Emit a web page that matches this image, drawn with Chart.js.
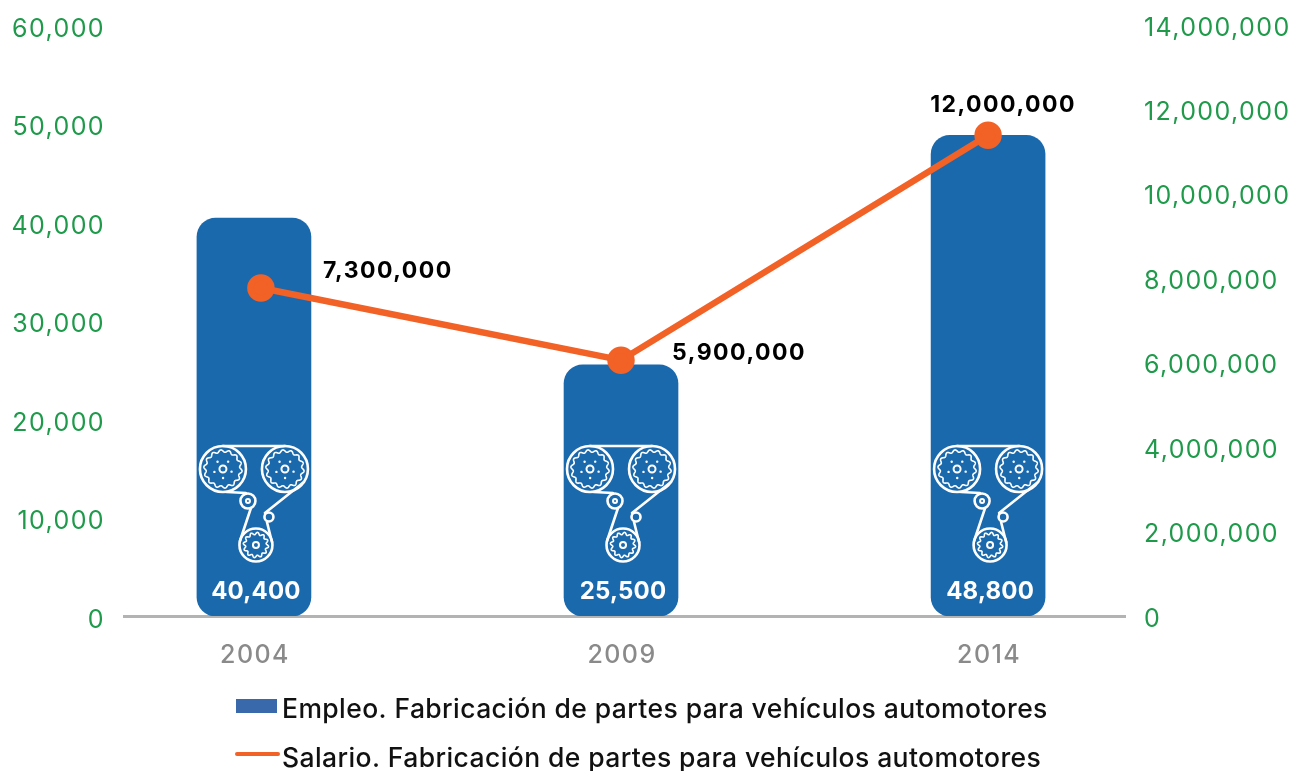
<!DOCTYPE html>
<html><head><meta charset="utf-8">
<style>html,body{margin:0;padding:0;background:#fff}#w{position:relative;width:1291px;height:771px}</style>
<script src="https://cdn.jsdelivr.net/npm/chart.js@4"></script>
</head><body><div id="w"><canvas id="c" width="1291" height="771"></canvas></div>
<script>
const categories = ['2004','2009','2014'];
const empleo = [40400,25500,48800];
// Salary points as drawn in the picture (on the right axis) and the labels printed beside them
const salarioPlotted = [7770000,6060000,11390000];
const salarioLabels = ['7,300,000','5,900,000','12,000,000'];
const leftTicks = [0,10000,20000,30000,40000,50000,60000];
const rightTicks = [0,2000000,4000000,6000000,8000000,10000000,12000000,14000000];
const legendNames = ['Empleo. Fabricación de partes para vehículos automotores','Salario. Fabricación de partes para vehículos automotores'];

const FONT = 'Inter, sans-serif';
const GREEN='#1f9a4b', BLUE='#1b69ad', ORANGE='#f26126', GREY='#8a8a8a';
const fmt = v => Number(v).toLocaleString('en-US');

function gear(ctx,x,y,r,teeth){
  ctx.beginPath();
  for(let a=0;a<=720;a++){
    const t=a/720*Math.PI*2;
    const rr=r+Math.sin(t*teeth)*1.2;
    const px=x+Math.cos(t)*rr, py=y+Math.sin(t)*rr;
    a?ctx.lineTo(px,py):ctx.moveTo(px,py);
  }
  ctx.closePath();ctx.stroke();
}
function ring(ctx,x,y,r){ctx.beginPath();ctx.arc(x,y,r,0,Math.PI*2);ctx.stroke();}
function drawIcon(ctx,cx,base){
  ctx.save();
  ctx.strokeStyle='#fff';ctx.fillStyle='#fff';ctx.lineWidth=2.6;ctx.lineCap='round';
  const yT=base-147, L=cx-31, R=cx+31;
  [L,R].forEach(x=>{
    ctx.beginPath();ctx.arc(x,yT,23,0,Math.PI*2);ctx.stroke();
    ctx.lineWidth=1.6;gear(ctx,x,yT,18,14);ctx.lineWidth=2;
    ring(ctx,x,yT,3.5);ctx.lineWidth=2.6;
    for(let i=0;i<5;i++){const t=i/5*Math.PI*2+.3;
      ctx.beginPath();ctx.arc(x+Math.cos(t)*9,yT+Math.sin(t)*9,1.2,0,Math.PI*2);ctx.fill();}
  });
  const yB=base-71;
  ring(ctx,cx+2,yB,16.5); ctx.lineWidth=1.6;gear(ctx,cx+2,yB,11.5,12);ctx.lineWidth=2;ring(ctx,cx+2,yB,3);ctx.lineWidth=2.6;
  ring(ctx,cx-6,base-115,7.5); ctx.lineWidth=2;ring(ctx,cx-6,base-115,2);ctx.lineWidth=2.6;
  ring(ctx,cx+15,base-99,4.5);
  ctx.beginPath();
  ctx.moveTo(L,yT-23);ctx.lineTo(R,yT-23);
  ctx.moveTo(L+4,yT+23);ctx.lineTo(cx-8,yT+24);
  ctx.moveTo(R+19,yT+13);ctx.lineTo(cx+11,base-103);
  ctx.moveTo(cx-3,base-108);ctx.lineTo(cx-14,yB-4);
  ctx.moveTo(cx+13,base-94);ctx.lineTo(cx+18,yB-3);
  ctx.stroke();
  ctx.restore();
}

const marks = {
  id:'marks',
  beforeDraw(chart){ chart.ctx.letterSpacing='1.4px'; },
  afterDatasetsDraw(chart){
    const ctx=chart.ctx, bars=chart.getDatasetMeta(1).data, pts=chart.getDatasetMeta(0).data;
    const base=chart.scales.y.getPixelForValue(0);
    bars.forEach((b,i)=>{
      drawIcon(ctx,b.x,base);
      ctx.save();ctx.letterSpacing='0.2px';ctx.fillStyle='#fff';ctx.font='700 24px '+FONT;ctx.textAlign='center';ctx.textBaseline='middle';
      ctx.fillText(fmt(empleo[i]),b.x+2,base-24);ctx.restore();
    });
    const off=[[127,-17],[118,-7],[15,-30]];
    pts.forEach((p,i)=>{
      ctx.save();ctx.letterSpacing='1.5px';ctx.fillStyle='#000';ctx.font='700 23px '+FONT;ctx.textAlign='center';ctx.textBaseline='middle';
      ctx.fillText(salarioLabels[i],p.x+off[i][0],p.y+off[i][1]);ctx.restore();
    });
    // legend
    ctx.save();
    ctx.letterSpacing='0.4px';
    ctx.font='500 26.5px '+FONT;ctx.textBaseline='middle';
    ctx.fillStyle='#3a69ab';ctx.fillRect(236,699,41,14);
    ctx.strokeStyle=ORANGE;ctx.lineWidth=4;ctx.lineCap='round';
    ctx.beginPath();ctx.moveTo(237,754);ctx.lineTo(278,754);ctx.stroke();
    ctx.fillStyle='#111';
    ctx.fillText(legendNames[0],282,710);
    ctx.fillText(legendNames[1],282,759);
    ctx.restore();
  }
};

new Chart(document.getElementById('c'),{
  data:{datasets:[
    {type:'line',label:legendNames[1],yAxisID:'y2',order:1,
     data:salarioPlotted.map((v,i)=>({x:i===0?i+0.019:i,y:v})),
     borderColor:ORANGE,backgroundColor:ORANGE,borderWidth:6.5,pointRadius:10.5,pointHoverRadius:10.5,tension:0},
    {type:'bar',label:legendNames[0],yAxisID:'y',order:2,
     data:empleo.map((v,i)=>({x:i,y:v})),
     backgroundColor:BLUE,barThickness:114,borderRadius:19,borderSkipped:false}
  ]},
  options:{
    responsive:false,animation:false,
    layout:{padding:{top:25,left:0,right:0,bottom:0}},
    plugins:{legend:{display:false},tooltip:{enabled:false}},
    scales:{
      x:{type:'linear',offset:false,min:-0.354,max:2.373,
        afterBuildTicks(s){s.ticks=categories.map((c,i)=>({value:i}));},
        afterFit(s){s.height=155;s.paddingLeft=0;s.paddingRight=0;},
        grid:{display:false,drawTicks:false},border:{display:true,color:'#b3b3b3',width:3},
        ticks:{callback:v=>categories[v],padding:24,labelOffset:1,color:GREY,maxRotation:0,autoSkip:false,font:{family:FONT,size:25,weight:'500'}}},
      y:{position:'left',min:0,max:60000,
        afterBuildTicks(s){s.ticks=leftTicks.map(v=>({value:v}));},
        afterFit(s){s.width=124;s.paddingTop=0;s.paddingBottom=0;},
        grid:{display:false,drawTicks:false},border:{display:false},
        ticks:{callback:fmt,padding:19,labelOffset:4,color:GREEN,font:{family:FONT,size:25}}},
      y2:{position:'right',min:0,max:14000000,
        afterBuildTicks(s){s.ticks=rightTicks.map(v=>({value:v}));},
        afterFit(s){s.width=166;s.paddingTop=0;s.paddingBottom=0;},
        grid:{display:false,drawTicks:false},border:{display:false},
        ticks:{callback:fmt,padding:19,labelOffset:3,color:GREEN,font:{family:FONT,size:25}}}
    }
  },
  plugins:[marks]
});
</script></body></html>
